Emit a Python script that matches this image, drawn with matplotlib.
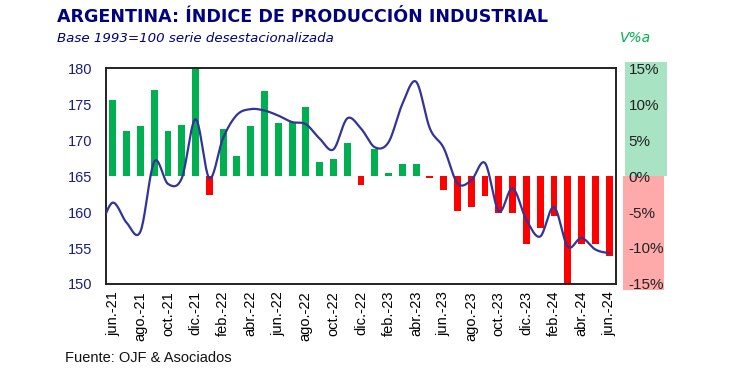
import matplotlib
matplotlib.use("Agg")
import matplotlib.pyplot as plt
import matplotlib.transforms as mtransforms
from matplotlib.patches import Rectangle
import numpy as np

# datos
meses = ['jun.-21', 'jul.-21', 'ago.-21', 'sep.-21', 'oct.-21', 'nov.-21', 'dic.-21',
         'ene.-22', 'feb.-22', 'mar.-22', 'abr.-22', 'may.-22', 'jun.-22', 'jul.-22',
         'ago.-22', 'sep.-22', 'oct.-22', 'nov.-22', 'dic.-22', 'ene.-23', 'feb.-23',
         'mar.-23', 'abr.-23', 'may.-23', 'jun.-23', 'jul.-23', 'ago.-23', 'sep.-23',
         'oct.-23', 'nov.-23', 'dic.-23', 'ene.-24', 'feb.-24', 'mar.-24', 'abr.-24',
         'may.-24', 'jun.-24']

# variacion % anual (barras, eje derecho)
var_anual = [10.6, 6.3, 6.9, 11.9, 6.3, 7.1, 15.0, -2.7, 6.5, 2.8, 6.9, 11.8, 7.4, 7.5,
             9.6, 2.0, 2.4, 4.6, -1.3, 3.7, 0.4, 1.7, 1.7, -0.3, -2.0, -4.9, -4.3, -2.8,
             -5.2, -5.1, -9.4, -7.2, -5.5, -15.0, -9.4, -9.4, -11.1]

# indice desestacionalizado (linea, eje izquierdo), desde may.-21
indice = [158.0, 161.3, 158.5, 157.3, 167.0, 163.9, 164.7, 172.9, 164.7, 170.3, 173.5,
          174.3, 174.1, 173.4, 172.5, 172.2, 170.2, 168.7, 173.0, 171.6, 169.0, 169.7,
          175.0, 178.1, 171.6, 168.9, 164.0, 164.4, 166.8, 160.1, 163.3, 158.9, 156.6,
          160.7, 155.2, 156.4, 154.8, 154.3]

NAVY = '#000080'
AZUL = '#333399'
VERDE = '#00B050'
ROJO = '#FF0000'


def suavizar(xs, ys, n=20):
    # curva tipo Catmull-Rom, como la linea suavizada de Excel
    xs = np.asarray(xs, float)
    ys = np.asarray(ys, float)
    out_x, out_y = [], []
    t = np.linspace(0, 1, n, endpoint=False)
    for i in range(len(ys) - 1):
        p0 = ys[i - 1] if i > 0 else ys[i]
        p1, p2 = ys[i], ys[i + 1]
        p3 = ys[i + 2] if i + 2 < len(ys) else ys[i + 1]
        yy = 0.5 * (2 * p1 + (-p0 + p2) * t + (2 * p0 - 5 * p1 + 4 * p2 - p3) * t ** 2
                    + (-p0 + 3 * p1 - 3 * p2 + p3) * t ** 3)
        out_x.extend(xs[i] + (xs[i + 1] - xs[i]) * t)
        out_y.extend(yy)
    out_x.append(xs[-1])
    out_y.append(ys[-1])
    return np.array(out_x), np.array(out_y)


plt.rcParams['font.family'] = ['Liberation Sans', 'DejaVu Sans']

fig = plt.figure(figsize=(7.3, 3.72), dpi=100)
ax = fig.add_axes([0.1452, 0.2366, 0.6986, 0.5804])
ax2 = ax.twinx()

x = np.arange(len(meses))
colores = [VERDE if v >= 0 else ROJO for v in var_anual]
ax2.bar(x, var_anual, width=0.5, color=colores, zorder=2)
ax2.set_ylim(-15, 15)
ax2.set_yticks(np.arange(-15, 16, 5))
ax2.set_yticklabels(['%d%%' % v for v in np.arange(-15, 16, 5)])
ax2.tick_params(axis='y', length=0, pad=9, labelsize=11, labelcolor='#222222')

# cajas de color detras de las etiquetas del eje derecho
trans = mtransforms.blended_transform_factory(ax.transAxes, ax2.transData)
ax2.add_patch(Rectangle((1.018, 0), 0.082, 15.9, transform=trans,
                        facecolor='#A8E4C4', edgecolor='none', clip_on=False, zorder=0))
ax2.add_patch(Rectangle((1.013, -15.9), 0.082, 15.9, transform=trans,
                        facecolor='#FFAAAA', edgecolor='none', clip_on=False, zorder=0))

# linea del indice
xl = np.arange(-1, len(meses))
sx, sy = suavizar(xl, indice)
ax.plot(sx, sy, color=AZUL, linewidth=1.6, zorder=3)
ax.set_zorder(ax2.get_zorder() + 1)
ax.patch.set_visible(False)

ax.set_xlim(-0.5, len(meses) - 0.5)
ax.set_ylim(150, 180)
ax.set_yticks(np.arange(150, 181, 5))
ax.tick_params(axis='y', length=0, pad=10, labelsize=10.5, labelcolor='#1c1c84')
ax.set_xticks(x[::2])
ax.set_xticklabels(meses[::2], rotation=90, fontsize=10.5)
ax.tick_params(axis='x', length=0, pad=5)

for a in (ax, ax2):
    for s in a.spines.values():
        s.set_linewidth(1.2)
        s.set_color('#222222')

fig.text(57 / 730, 1 - 17 / 372, 'ARGENTINA: ÍNDICE DE PRODUCCIÓN INDUSTRIAL',
         family=['DejaVu Sans'], fontweight='bold', fontsize=12.6, color=NAVY,
         va='center', ha='left')
fig.text(57 / 730, 1 - 38 / 372, 'Base 1993=100 serie desestacionalizada',
         family=['DejaVu Sans'], style='italic', fontsize=9.6, color=NAVY,
         va='center', ha='left')
fig.text(620 / 730, 1 - 38 / 372, 'V%a', family=['DejaVu Sans'], style='italic',
         fontsize=10, color=VERDE, va='center', ha='left')
fig.text(65 / 730, 1 - 358 / 372, 'Fuente: OJF & Asociados', fontsize=10.5,
         color='#111111', va='center', ha='left')

plt.savefig('out.png', dpi=100)
